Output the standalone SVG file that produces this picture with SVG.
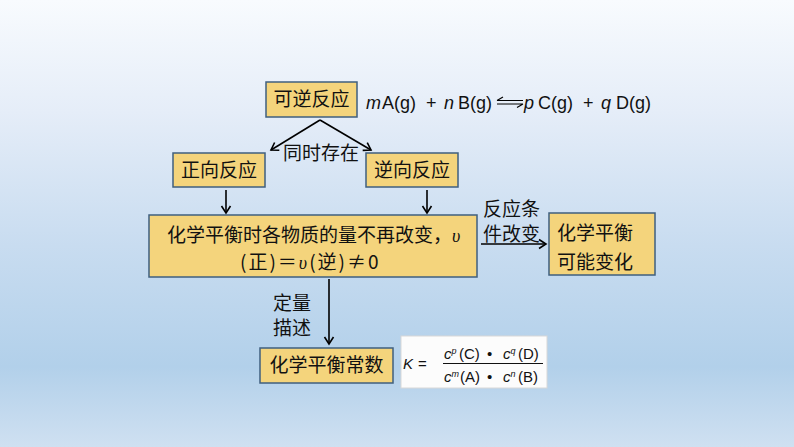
<svg xmlns="http://www.w3.org/2000/svg" width="794" height="447" viewBox="0 0 794 447">
<defs>
<linearGradient id="bg" x1="0" y1="0" x2="0" y2="1">
<stop offset="0" stop-color="#f8fbfe"/>
<stop offset="0.25" stop-color="#e5edf8"/>
<stop offset="0.55" stop-color="#c8dcf0"/>
<stop offset="0.82" stop-color="#b2d0ea"/>
<stop offset="1" stop-color="#cfe0f1"/>
</linearGradient>
<marker id="ah" markerWidth="12" markerHeight="12" refX="9" refY="6" orient="auto" markerUnits="userSpaceOnUse">
<path d="M2,1.5 L9,6 L2,10.5" fill="none" stroke="#000" stroke-width="1.6"/>
</marker>
<style>
.box{fill:#f4d47c;stroke:#3f5f7f;stroke-width:1.5}
.cn{font-family:"Noto Sans CJK SC","Noto Sans",sans-serif;fill:#111;font-size:19px}
.eq{font-family:"Liberation Sans","DejaVu Sans",sans-serif;fill:#111;font-size:18px}
.it{font-style:italic}
.ln{fill:none;stroke:#000;stroke-width:1.6}
.fm{font-family:"Liberation Sans","DejaVu Sans",sans-serif;fill:#111;font-size:15px}
</style>
</defs>
<rect x="0" y="0" width="794" height="447" fill="url(#bg)"/>

<g id="n-reversible">
<rect class="box" x="266" y="82" width="91" height="35"/>
<text class="cn" x="311.5" y="106" text-anchor="middle">可逆反应</text>
</g>

<g id="equation">
<text class="eq" y="109"><tspan class="it" x="366">m</tspan><tspan x="382">A(g)</tspan><tspan x="426">+</tspan><tspan class="it" x="444">n</tspan><tspan x="458">B(g)</tspan><tspan class="it" x="524">p</tspan><tspan x="538">C(g)</tspan><tspan x="583">+</tspan><tspan class="it" x="601">q</tspan><tspan x="616">D(g)</tspan></text>
<path class="ln" style="stroke-width:1.2" d="M497,100.5 H523 M497,100.5 L503,97 M497,104 H523 M523,104 L517,107.5"/>
</g>

<g id="n-forward">
<rect class="box" x="173" y="153" width="92" height="34"/>
<text class="cn" x="219" y="177" text-anchor="middle">正向反应</text>
</g>

<g id="n-reverse">
<rect class="box" x="366" y="153" width="92" height="34"/>
<text class="cn" x="412" y="177" text-anchor="middle">逆向反应</text>
</g>

<g id="n-equilibrium">
<rect class="box" x="149" y="215" width="328" height="62"/>
<text class="cn" x="167" y="242">化学平衡时各物质的量不再改变，<tspan font-family="Liberation Serif,serif" font-style="italic" font-size="18">υ</tspan></text>
<text class="cn" x="240" y="269" font-size="17" letter-spacing="2">(正)＝<tspan font-family="Liberation Serif,serif" font-style="italic" font-size="18">υ</tspan>(逆)≠0</text>
</g>

<g id="n-change">
<rect class="box" x="549" y="213" width="106" height="62"/>
<text class="cn" x="557" y="240">化学平衡</text>
<text class="cn" x="557" y="269">可能变化</text>
</g>

<g id="n-constant">
<rect class="box" x="260" y="348" width="133" height="35"/>
<text class="cn" x="326.5" y="372" text-anchor="middle">化学平衡常数</text>
</g>

<g id="formula">
<rect x="401" y="336" width="146" height="52" fill="#fcfcfc" stroke="#d8d8d8" stroke-width="1"/>
<text class="fm" x="403" y="369" font-size="17"><tspan class="it">K</tspan><tspan x="418">=</tspan></text>
<line x1="443" y1="363.5" x2="543" y2="363.5" stroke="#111" stroke-width="1.2"/>
<text class="fm" y="359"><tspan class="it" x="444">c</tspan><tspan class="it" font-size="9" dy="-5">p</tspan><tspan dy="5" x="459">(C)</tspan><tspan x="487">•</tspan><tspan class="it" x="503">c</tspan><tspan class="it" font-size="9" dy="-5">q</tspan><tspan dy="5" x="518">(D)</tspan></text>
<text class="fm" y="382"><tspan class="it" x="444">c</tspan><tspan class="it" font-size="9" dy="-5">m</tspan><tspan dy="5" x="460">(A)</tspan><tspan x="487">•</tspan><tspan class="it" x="503">c</tspan><tspan class="it" font-size="9" dy="-5">n</tspan><tspan dy="5" x="518">(B)</tspan></text>
</g>

<g id="labels">
<text class="cn" x="321" y="160" text-anchor="middle">同时存在</text>
<text class="cn" x="483" y="216" font-size="18">反应条</text>
<text class="cn" x="483" y="241" font-size="18">件改变</text>
<text class="cn" x="273" y="310" font-size="18">定量</text>
<text class="cn" x="273" y="335" font-size="18">描述</text>
</g>

<g id="connectors">
<path class="ln" d="M320,120 L271,150" marker-end="url(#ah)"/>
<path class="ln" d="M320,120 L371,150" marker-end="url(#ah)"/>
<path class="ln" d="M226,190 V213" marker-end="url(#ah)"/>
<path class="ln" d="M427,190 V213" marker-end="url(#ah)"/>
<path class="ln" d="M481,244 H546" marker-end="url(#ah)"/>
<path class="ln" d="M329,279 V344" marker-end="url(#ah)"/>
</g>
</svg>
